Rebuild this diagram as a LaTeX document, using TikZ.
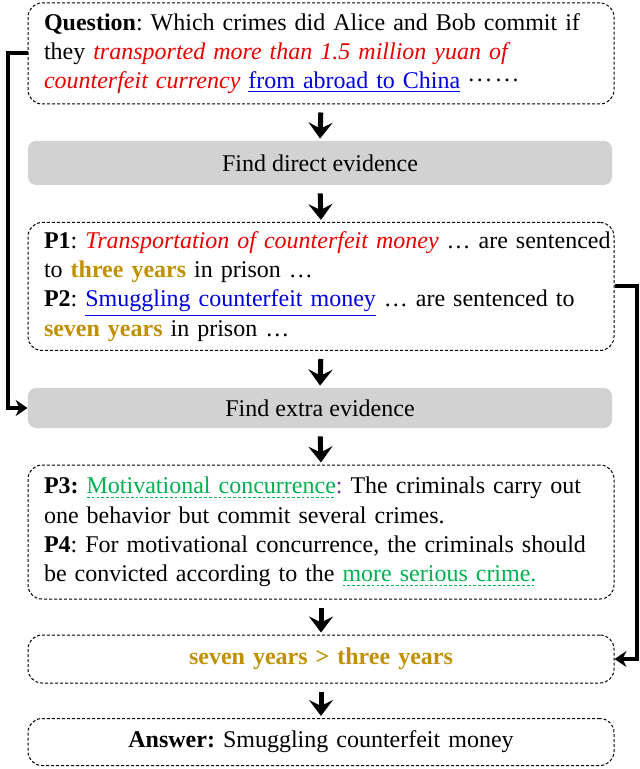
\documentclass[tikz,border=0pt]{standalone}
\usepackage{fontspec}
\setmainfont{Liberation Serif}
\usetikzlibrary{arrows.meta,positioning}

\definecolor{qred}{RGB}{235,0,0}
\definecolor{qblue}{RGB}{0,0,225}
\definecolor{qgold}{RGB}{191,144,0}
\definecolor{qgreen}{RGB}{0,176,80}
\definecolor{qpurple}{RGB}{112,48,160}
\definecolor{boxgray}{RGB}{210,210,210}

% dashed underline
\newsavebox\ulbox
\newcommand\dashul[1]{\sbox\ulbox{#1}\rlap{\usebox\ulbox}\raisebox{-2.2pt}{\hbox to \wd\ulbox{\xleaders\hbox to 2.4pt{\rule{1.4pt}{0.5pt}\hfil}\hfill}}}
% raised dots
\newcommand\middots{\raisebox{0.3em}{.\kern1.3pt.\kern1.3pt.}}
\frenchspacing

\begin{document}
\begin{tikzpicture}[
  x=0.5pt, y=-0.5pt, font=\fontsize{12}{14.6}\selectfont,
  evidence/.style={rectangle, draw=black, line width=0.5pt, dash pattern=on 1.5pt off 1pt, rounded corners=7pt, text width=277pt, inner xsep=8pt, inner ysep=0pt, align=center},
  leftbox/.style={evidence, align=left,
    execute at begin node={\hyphenpenalty=10000\rightskip=-14pt plus 2em\relax}},
  stepbox/.style={rectangle, fill=boxgray, rounded corners=4pt, minimum width=292pt, inner sep=0pt},
  down/.style={line width=2.5pt, -{Stealth[length=8pt, width=12pt, inset=3pt]}, shorten <=4pt, shorten >=1pt},
  link/.style={line width=2pt, -{Stealth[length=6pt, width=8pt, inset=2pt]}}
]
\useasboundingbox (0,0) rectangle (640,769);

\node[leftbox, minimum height=50.5pt] (quest) at (321,53.5) {\textbf{Question}: Which crimes did Alice and Bob commit if\\
they \textcolor{qred}{\textit{transported more than 1.5 million yuan of}}\\
\textcolor{qred}{\textit{counterfeit currency}} \textcolor{qblue}{\underline{from abroad to China}} \middots\kern2pt\middots};

\node[stepbox, minimum height=22pt] (direct) at (320,163) {Find direct evidence};

\node[leftbox, minimum height=64pt] (p12) at (321,286.5) {\textbf{P1}: \textcolor{qred}{\textit{Transportation of counterfeit money}} … are sentenced\\
to \textcolor{qgold}{\textbf{three years}} in prison …\\
\textbf{P2}: \textcolor{qblue}{\underline{Smuggling counterfeit money}} … are sentenced to\\
\textcolor{qgold}{\textbf{seven years}} in prison …};

\node[stepbox, minimum height=20pt] (extra) at (320,408) {Find extra evidence};

\node[leftbox, minimum height=67pt] (p34) at (321,532) {\textbf{P3:} \textcolor{qgreen}{\dashul{Motivational concurrence}}\textcolor{qpurple}{:} The criminals carry out\\
one behavior but commit several crimes.\\
\textbf{P4}: For motivational concurrence, the criminals should\\
be convicted according to the \textcolor{qgreen}{\dashul{more serious crime.}}};

\node[evidence, minimum height=24pt] (cmp) at (321,659) {\textcolor{qgold}{\textbf{seven years > three years}}};

\node[evidence, minimum height=23.5pt] (ans) at (321,742) {\textbf{Answer:} Smuggling counterfeit money};

% main flow
\draw[down] (quest.south) -- (direct.north);
\draw[down] (direct.south) -- (p12.north);
\draw[down] (p12.south) -- (extra.north);
\draw[down] (extra.south) -- (p34.north);
\draw[down] (p34.south) -- (cmp.north);
\draw[down] (cmp.south) -- (ans.north);

% side links
\draw[link] (quest.west) -- ++(-20,0) |- (extra.west);
\draw[link] (p12.east) -- ++(22,0) |- (cmp.east);

\end{tikzpicture}
\end{document}
